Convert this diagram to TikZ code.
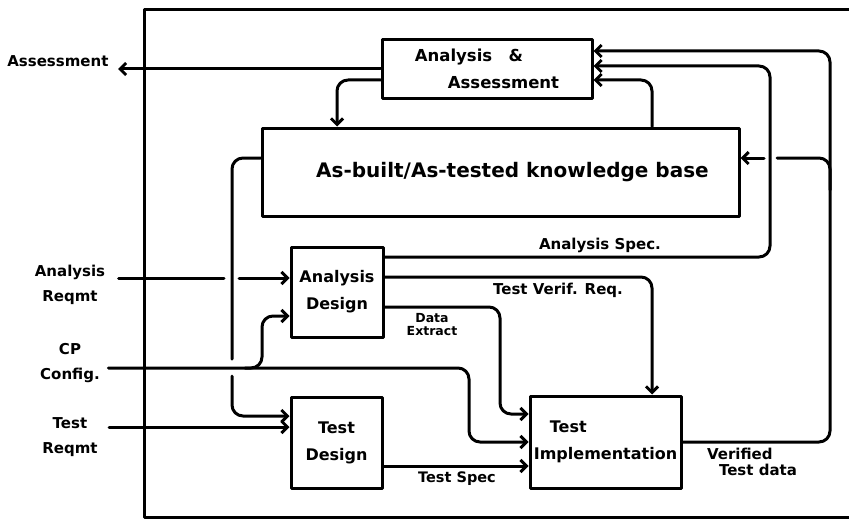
\documentclass[tikz,border=0pt]{standalone}
\usepackage{fontspec}
\setmainfont{DejaVu Sans}
\usetikzlibrary{arrows.meta}
\begin{document}
\begin{tikzpicture}[x=1pt,y=-1pt,
  line width=3pt, line join=round, line cap=round,
  box/.style={draw, rectangle, inner sep=0pt, align=center},
  arr/.style={-{Straight Barb[length=6pt,width=12pt]}},
  flow/.style={rounded corners=11pt},
  lbl/.style={inner sep=0pt, align=center, font=\bfseries\fontsize{15}{25}\selectfont},
  tag/.style={inner sep=0pt, align=center, font=\bfseries\fontsize{15}{16}\selectfont},
]
\useasboundingbox (0,0) rectangle (849,519);

% outer frame, open on the right
\draw (849,10) -- (144,10) -- (144,517) -- (849,517);

% process boxes
\node[box, minimum width=210pt, minimum height=58pt, align=left,
      font=\bfseries\fontsize{16.5}{27}\selectfont] (aa) at (487,69)
      {Analysis\quad\&\\\hspace*{2em}Assessment};
\node[box, minimum width=477pt, minimum height=88pt,
      font=\bfseries\fontsize{20}{25}\selectfont] (kb) at (500.5,172)
      {\hspace*{1.2em}As-built/As-tested knowledge base};
\node[box, minimum width=92pt, minimum height=90pt,
      font=\bfseries\fontsize{16}{27}\selectfont] (ad) at (337,292) {Analysis\\Design};
\node[box, minimum width=91pt, minimum height=91pt,
      font=\bfseries\fontsize{16}{27}\selectfont] (td) at (336.5,442.5) {Test\\Design};
\node[box, minimum width=151pt, minimum height=92pt, align=left,
      font=\bfseries\fontsize{16}{27}\selectfont] (ti) at (605.5,442)
      {\hspace*{1em}Test\\Implementation};

% external inputs and outputs
\node[lbl, anchor=east] (asm) at (110,61) {Assessment};
\node[lbl] (ar) at (70,285) {Analysis\\Reqmt};
\node[lbl] (cp) at (70,363) {CP\\Config.};
\node[lbl] (tr) at (70,437) {Test\\Reqmt};

% jump points where lines cross
\coordinate (arGapL) at (224,278);
\coordinate (arGapR) at (239,278);
\coordinate (colGapT) at (232,359);
\coordinate (colGapB) at (232,376);
\coordinate (brGapR) at (777,158);
\coordinate (brGapL) at (764,158);

% assessment out
\draw[arr] (aa.west) -- ([xshift=8pt,yshift=-8pt]asm.east);
% assessment back into the knowledge base
\draw[arr, flow] ([yshift=-11pt]aa.west) -| (ad.center |- kb.north);
% knowledge base up to assessment
\draw[arr, flow] ([xshift=151.5pt]kb.north) |- ([yshift=-11pt]aa.east);

% knowledge base down the left column to test design
\draw[flow] ([yshift=14pt]kb.west) -| (colGapT);
\draw[arr, flow] (colGapB) |- ([yshift=26.5pt]td.west);

% analysis requirement
\draw ([xshift=12pt,yshift=7pt]ar.east) -- (arGapL);
\draw[arr] (arGapR) -- ([yshift=14pt]ad.west);

% CP configuration
\draw[arr, flow] ([xshift=7pt,yshift=-5pt]cp.east) -| (469,400) |- (ti.west);
\draw[arr, flow] (245,368) -| (262,340) |- ([yshift=-24pt]ad.west);

% test requirement
\draw[arr] ([xshift=10pt,yshift=10pt]tr.east) -- ([yshift=15.5pt]td.west);

% analysis design outputs
\draw[arr, flow] ([yshift=35pt]ad.east) -- (770,257) -- (770,66) -- ([yshift=3pt]aa.east);
\draw[arr, flow] ([yshift=15pt]ad.east) -| ([xshift=46.5pt]ti.north);
\draw[arr, flow] ([yshift=-15pt]ad.east) -| (500,360) |- ([yshift=28pt]ti.west);

% test spec
\draw[arr] ([yshift=-23.5pt]td.east) -- ([yshift=-24pt]ti.west);

% verified test data loop
\draw[arr, flow] (ti.east) -- (830,442) -- (830,51) -- ([yshift=18pt]aa.east);
\draw[flow] (830,190) -- (830,158) -- (brGapR);
\draw[arr] (brGapL) -- ([yshift=14pt]kb.east);

% flow labels
\node[tag] (lAS) at (600,245) {Analysis Spec.};
\node[tag] (lTV) at (558,290) {Test Verif. Req.};
\node[tag, font=\bfseries\fontsize{12.5}{13}\selectfont] (lDE) at (432,325) {Data\\Extract};
\node[tag, font=\bfseries\fontsize{14.5}{16}\selectfont] (lTS) at (457,479) {Test Spec};
\node[tag, align=left] (lVT) at (752,462) {Verified\\\hspace*{0.8em}Test data};
\end{tikzpicture}
\end{document}
